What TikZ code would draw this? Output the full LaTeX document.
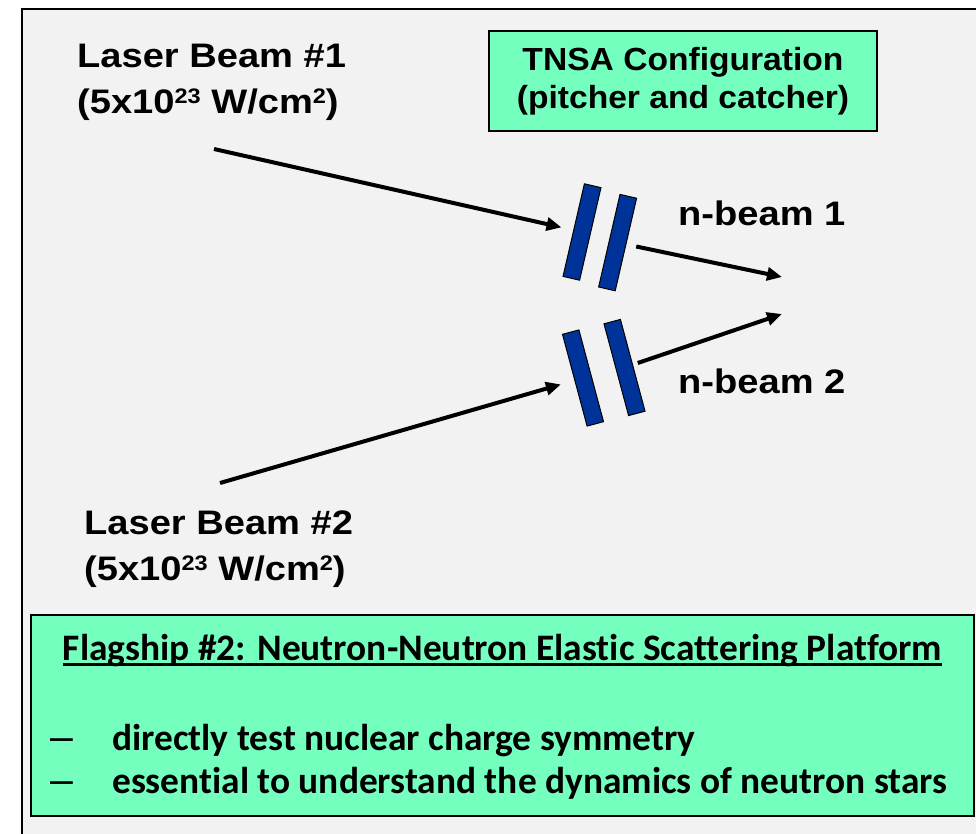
\documentclass[tikz,border=0pt]{standalone}
\usepackage{fontspec}
\usepackage{xcolor}
\usetikzlibrary{arrows.meta}
\newfontfamily\beamfont[FakeStretch=1.12]{Liberation Sans}
\newfontfamily\tnsafont[FakeStretch=1.05]{Liberation Sans}
\newfontfamily\dashfont{Liberation Sans}
\newfontfamily\flagfont[Ligatures=NoCommon]{Carlito}
\definecolor{panelgray}{HTML}{F2F2F2}
\definecolor{flaggreen}{RGB}{117,255,191}
\definecolor{plateblue}{RGB}{0,51,153}
\newcommand{\supnum}[1]{\raisebox{10pt}{\fontsize{21}{21}\selectfont #1}}
\newcommand{\flagul}[1]{\setbox0\hbox{#1}\rlap{\rule[-6pt]{\wd0}{2.6pt}}\box0}

\begin{document}
\begin{tikzpicture}[x=1pt, y=-1pt, >={Triangle[length=15pt,width=13pt]},
  beamlabel/.style={font=\beamfont\bfseries\fontsize{34}{46}\selectfont, align=left, inner sep=0pt},
  flagtext/.style={font=\flagfont\bfseries\fontsize{37.4}{43}\selectfont, inner sep=0pt},
  flagdash/.style={font=\dashfont\mdseries\fontsize{41}{41}\selectfont, inner sep=0pt},
  greenbox/.style={draw, line width=1.6pt, fill=flaggreen, inner sep=0pt, align=center},
  plate/.style={draw, line width=1pt, fill=plateblue, minimum width=17pt, minimum height=95pt, inner sep=0pt},
  beam/.style={->, line width=4pt}]
  \useasboundingbox (0,0) rectangle (976,833);
  \fill[white] (0,0) rectangle (976,833);
  \draw[line width=2pt, fill=panelgray] (22,9) rectangle (1000,860);

  \node[beamlabel, anchor=north west] (las1) at (77,44) {Laser Beam \#1\\(5x10\supnum{23} W/cm\supnum{2})};
  \node[beamlabel, anchor=north west] (las2) at (84,511) {Laser Beam \#2\\(5x10\supnum{23} W/cm\supnum{2})};
  \node[greenbox, minimum width=388pt, minimum height=100pt,
    font=\tnsafont\bfseries\fontsize{32}{38}\selectfont] (tnsa) at (683,81) {TNSA Configuration\\(pitcher and catcher)};

  \node[plate, rotate=-13] (p1a) at (582,232) {};
  \node[plate, rotate=-13] (p1b) at (617.6,242.6) {};
  \node[plate, rotate=15] (p2a) at (583,378) {};
  \node[plate, rotate=15] (p2b) at (624.5,367.5) {};

  \node[beamlabel, anchor=north west] (nb1lab) at (678,201) {n-beam 1};
  \node[beamlabel, anchor=north west] (nb2lab) at (678,369) {n-beam 2};

  \coordinate (l1s) at (214,149);
  \coordinate (l2s) at (220,483);
  \coordinate (nb1) at (782,277);
  \coordinate (nb2) at (782,314);
  \draw[beam, shorten >=12pt] (l1s) -- (p1a);
  \draw[beam, shorten >=14pt] (l2s) -- (p2a);
  \draw[beam, shorten <=10pt] (p1b) -- (nb1);
  \draw[beam, shorten <=5pt] (p2b) -- (nb2);

  \node[greenbox, minimum width=943pt, minimum height=201pt] (flag) at (502.5,715.5) {};
  \node[flagtext, anchor=base] (flaghead) at (502.5,660) {\flagul{Flagship \#2: Neutron-Neutron Elastic Scattering Platform}};
  \node[flagdash, anchor=base west] (dash1) at (50,750) {–};
  \node[flagtext, anchor=base west] (item1) at (112,750) {directly test nuclear charge symmetry};
  \node[flagdash, anchor=base west] (dash2) at (50,793) {–};
  \node[flagtext, anchor=base west] (item2) at (112,793) {essential to understand the dynamics of neutron stars};
\end{tikzpicture}
\end{document}
